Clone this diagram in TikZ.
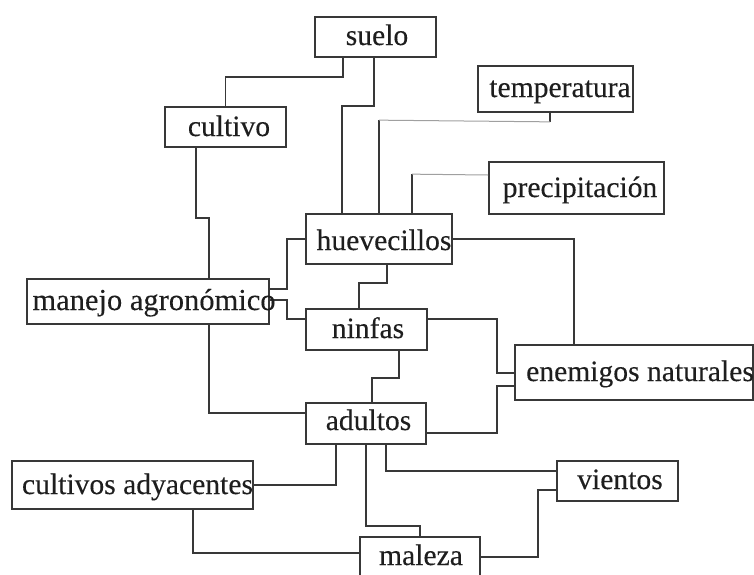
\documentclass[tikz,border=0pt]{standalone}
\usepackage{fontspec}
\setmainfont{Liberation Serif}
\newfontfamily\lblfont[FakeBold=0.2]{Liberation Serif}
\usetikzlibrary{calc}
\definecolor{ink}{HTML}{383838}
\definecolor{txt}{HTML}{1E1E1E}
\definecolor{faint}{HTML}{A0A0A0}
\tikzset{
  box/.style={draw=ink, line width=1.7pt, rectangle, inner sep=0pt, fill=white},
  lbl/.style={anchor=base, inner sep=0pt, text=txt, font=\lblfont\fontsize{29.6}{31}\selectfont},
  conn/.style={draw=ink, line width=1.7pt},
  thinline/.style={draw=faint, line width=1pt},
}
\begin{document}
\begin{tikzpicture}[x=1pt,y=-1pt]
\useasboundingbox (0,0) rectangle (754,574);
\clip (0,0) rectangle (754,574);
\fill[white] (0,0) rectangle (754,574);

% boxes
\node[box, minimum width=121pt, minimum height=40pt] (suelo) at (375.5,37) {};
\node[box, minimum width=121pt, minimum height=40pt] (cultivo) at (225.5,127) {};
\node[box, minimum width=155pt, minimum height=46pt] (temperatura) at (555.5,89) {};
\node[box, minimum width=175pt, minimum height=52pt] (precipitacion) at (576.5,188) {};
\node[box, minimum width=146pt, minimum height=50pt] (huevecillos) at (379,239) {};
\node[box, minimum width=242pt, minimum height=45pt] (manejo) at (148,301.5) {};
\node[box, minimum width=121pt, minimum height=41pt] (ninfas) at (366.5,329.5) {};
\node[box, minimum width=120pt, minimum height=41pt] (adultos) at (366,423.5) {};
\node[box, minimum width=238pt, minimum height=55pt] (enemigos) at (634,372.5) {};
\node[box, minimum width=241pt, minimum height=48pt] (cultivosady) at (132.5,485) {};
\node[box, minimum width=121pt, minimum height=40pt] (vientos) at (617.5,481) {};
\node[box, minimum width=120pt, minimum height=40pt] (maleza) at (420,557) {};

% connectors
\draw[conn] ($(suelo.south)+(-32.5,0)$) -- ++(0,19) -| (cultivo.north);
\draw[conn] ($(suelo.south)+(-1.5,0)$) -- ++(0,48) -| ($(huevecillos.north)+(-37,0)$);
\draw[conn] ($(temperatura.south)+(-5.5,-2)$) -- ++(0,11) coordinate (tc);
\draw[conn] (huevecillos.north) -- ++(0,-93) coordinate (th);
\draw[thinline] (tc) -- (th);
\draw[conn] ($(huevecillos.north)+(33,0)$) -- ++(0,-39) coordinate (pc);
\draw[thinline] (pc) -- ($(precipitacion.west)+(0,-13)$);
\draw[conn] ($(cultivo.south)+(-29.5,0)$) -- ++(0,70) -| ($(manejo.north)+(61,0)$);
\draw[conn] ($(manejo.east)+(0,-12.5)$) -- ++(17,0) |- (huevecillos.west);
\draw[conn] ($(manejo.east)+(0,-1.5)$) -- ++(17,0) |- ($(ninfas.west)+(0,-10.5)$);
\draw[conn] ($(manejo.south)+(61,0)$) |- ($(adultos.west)+(0,-10.5)$);
\draw[conn] ($(huevecillos.south)+(8,0)$) -- ++(0,18) -| ($(ninfas.north)+(-7.5,0)$);
\draw[conn] ($(ninfas.south)+(32.5,0)$) -- ++(0,27) -| ($(adultos.north)+(6,0)$);
\draw[conn] (huevecillos.east) -| ($(enemigos.north)+(-60,0)$);
\draw[conn] ($(ninfas.east)+(0,-10.5)$) -- ++(69,0) |- ($(enemigos.west)+(0,0.5)$);
\draw[conn] ($(adultos.east)+(0,9.5)$) -- ++(70,0) |- ($(enemigos.west)+(0,13.5)$);
\draw[conn] ($(adultos.south)+(-30,0)$) |- (cultivosady.east);
\draw[conn] (adultos.south) -- ++(0,81) -| (maleza.north);
\draw[conn] ($(adultos.south)+(20,0)$) |- ($(vientos.west)+(0,-10)$);
\draw[conn] ($(cultivosady.south)+(60.5,0)$) |- ($(maleza.west)+(0,-4)$);
\draw[conn] (maleza.east) -- ++(57,0) |- ($(vientos.west)+(0,9)$);

% texts
\node[lbl] (tsuelo) at (377,45) {suelo};
\node[lbl] (tcultivo) at (229,136) {cultivo};
\node[lbl] (ttemp) at (560,97) {temperatura};
\node[lbl] (tprec) at (580,197) {precipitación};
\node[lbl] (thuev) at (384,250) {huevecillos};
\node[lbl, font=\lblfont\fontsize{30.5}{32}\selectfont] (tmanejo) at (154,310) {manejo agronómico};
\node[lbl] (tninfas) at (368,338) {ninfas};
\node[lbl] (tadultos) at (368.5,430) {adultos};
\node[lbl] (tenem) at (640,381) {enemigos naturales};
\node[lbl] (tcady) at (137.5,494) {cultivos adyacentes};
\node[lbl] (tvientos) at (620,489) {vientos};
\node[lbl] (tmaleza) at (421,565) {maleza};
\end{tikzpicture}
\end{document}
